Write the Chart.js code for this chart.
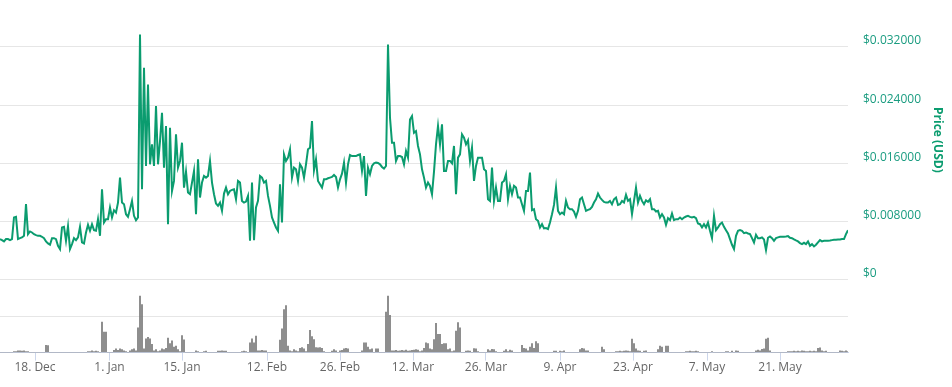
<!DOCTYPE html>
<html lang="en">
<head>
    <meta charset="UTF-8">
    <title>Price and volume</title>
    <script src="https://cdn.jsdelivr.net/npm/chart.js"></script>
    <style>
        body {
            margin: 0;
            background: #ffffff;
            font-family: 'Open Sans', sans-serif;
        }
        .chart-box {
            position: relative;
            width: 952px;
            height: 387px;
        }
    </style>
</head>
<body>
    <div class="chart-box">
        <canvas id="priceChart"></canvas>
    </div>

    <script>
        // Price in USD, one value per ordinal slot (gaps in time are skipped, like the original)
        const priceValues = [
            0.00558,0.00544,0.00526,0.00558,0.00558,0.00544,0.00558,0.00855,0.00864,0.00558,
            0.00571,0.00581,0.00603,0.01038,0.00626,0.00663,0.00649,0.00626,0.00613,0.00603,
            0.00603,0.00590,0.00571,0.00526,0.00498,0.00480,0.00571,0.00571,0.00558,0.00466,
            0.00421,0.00718,0.00727,0.00535,0.00736,0.00421,0.00489,0.00571,0.00544,0.00581,
            0.00727,0.00512,0.00498,0.00649,0.00754,0.00672,0.00763,0.00681,0.00672,0.00832,
            0.00603,0.01243,0.00786,0.00832,0.00832,0.00992,0.00855,0.00955,0.00923,0.01060,
            0.01403,0.01060,0.01038,0.00900,0.00864,0.00969,0.01083,0.00878,0.00818,0.00855,
            0.03369,0.01243,0.02912,0.01563,0.02683,0.01586,0.01860,0.01563,0.02386,0.01586,
            0.01906,0.02295,0.01540,0.02112,0.00763,0.02089,0.01220,0.01358,0.01998,0.01540,
            0.01632,0.01883,0.01266,0.01486,0.01198,0.01175,0.01335,0.01495,0.00900,0.01655,
            0.01129,0.01335,0.01426,0.01403,0.01426,0.01632,0.01335,0.01175,0.01047,0.01015,
            0.01060,0.00946,0.01184,0.01266,0.01175,0.01220,0.01234,0.01243,0.01106,0.01358,
            0.01335,0.01083,0.01060,0.01074,0.01152,0.00535,0.01335,0.00544,0.00992,0.01083,
            0.01426,0.01403,0.01335,0.01358,0.01152,0.01015,0.00855,0.00786,0.00718,0.00672,
            0.01312,0.00786,0.01723,0.01632,0.01678,0.01792,0.01403,0.01540,0.01518,0.01358,
            0.01586,0.01540,0.01403,0.01586,0.01792,0.01815,0.02180,0.01504,0.01655,0.01358,
            0.01312,0.01266,0.01380,0.01380,0.01394,0.01403,0.01412,0.01440,0.01412,0.01266,
            0.01380,0.01458,0.01609,0.01335,0.01586,0.01714,0.01700,0.01700,0.01700,0.01714,
            0.01723,0.01495,0.01700,0.01152,0.01540,0.01449,0.01563,0.01600,0.01609,0.01604,
            0.01586,0.01550,0.01527,0.01563,0.03232,0.02226,0.01883,0.01883,0.01632,0.01700,
            0.01700,0.01687,0.01586,0.01769,0.01678,0.02203,0.02249,0.02020,0.02043,0.01838,
            0.01723,0.01518,0.01403,0.01266,0.01335,0.01289,0.01175,0.01486,0.01860,0.02112,
            0.01860,0.02135,0.01495,0.01495,0.01632,0.01632,0.01600,0.01838,0.01175,0.01678,
            0.01723,0.01998,0.01952,0.01860,0.01915,0.01632,0.01815,0.01358,0.01563,0.01678,
            0.01678,0.01678,0.01518,0.01495,0.01106,0.01083,0.01540,0.01083,0.01266,0.01083,
            0.01083,0.01335,0.01358,0.01449,0.01106,0.01289,0.01175,0.01289,0.01266,0.01129,
            0.01129,0.01038,0.00946,0.01220,0.01220,0.01472,0.00955,0.00969,0.00832,0.00809,
            0.00718,0.00763,0.00704,0.00709,0.00695,0.00786,0.00900,0.01028,0.01266,0.00946,
            0.00900,0.00923,0.00900,0.01083,0.00992,0.00969,0.00969,0.00937,0.00864,0.00946,
            0.01106,0.01129,0.01038,0.00946,0.00960,0.00969,0.01001,0.01060,0.01106,0.01184,
            0.01129,0.01097,0.01070,0.01060,0.01060,0.01083,0.01038,0.01106,0.01129,0.01028,
            0.01038,0.01083,0.01060,0.01166,0.01083,0.01106,0.00900,0.01083,0.01266,0.01060,
            0.01152,0.01083,0.01038,0.01092,0.01070,0.01106,0.00969,0.00969,0.00937,0.00946,
            0.00855,0.00900,0.00855,0.00754,0.00846,0.00818,0.00910,0.00818,0.00832,0.00832,
            0.00855,0.00832,0.00855,0.00868,0.00878,0.00864,0.00855,0.00864,0.00846,0.00772,
            0.00763,0.00718,0.00763,0.00718,0.00786,0.00672,0.00571,0.00878,0.00681,0.00718,
            0.00763,0.00786,0.00727,0.00681,0.00635,0.00558,0.00480,0.00421,0.00603,0.00672,
            0.00681,0.00672,0.00640,0.00649,0.00635,0.00626,0.00571,0.00512,0.00617,0.00571,
            0.00571,0.00581,0.00553,0.00407,0.00576,0.00594,0.00571,0.00535,0.00571,0.00581,
            0.00590,0.00590,0.00590,0.00594,0.00599,0.00576,0.00571,0.00553,0.00539,0.00526,
            0.00503,0.00489,0.00507,0.00489,0.00526,0.00466,0.00489,0.00457,0.00480,0.00512,
            0.00544,0.00526,0.00535,0.00535,0.00535,0.00539,0.00544,0.00549,0.00549,0.00553,
            0.00553,0.00558,0.00558,0.00626,0.00681
        ];

        // Traded volume (thousand USD), same slots as the price
        const volumeValues = [
            0,0,0,0,0,0,0,3,3,5,
            5,4,5,3,3,0,0,0,0,0,
            0,0,0,20,19,0,0,0,0,0,
            0,0,0,0,0,0,0,0,0,0,
            0,0,0,0,3,3,5,3,4,3,
            0,84,56,56,0,0,0,6,10,6,
            10,8,5,3,0,5,8,10,5,68,
            155,132,10,38,42,38,23,5,8,3,
            5,10,8,12,40,25,32,15,18,8,
            3,47,35,0,0,0,0,0,5,3,
            0,0,3,4,0,0,0,0,0,4,
            4,5,4,4,0,0,0,0,0,0,
            0,3,4,3,0,27,38,27,45,5,
            5,6,5,5,0,0,0,0,0,0,
            34,65,118,129,18,5,3,8,5,3,
            12,14,10,3,23,61,44,36,14,13,
            14,12,3,0,0,0,4,8,5,0,
            5,6,10,12,10,0,0,0,0,0,
            0,5,27,27,15,8,10,0,10,10,
            0,0,0,111,155,102,5,5,6,4,
            5,6,5,7,4,5,6,7,8,7,
            3,5,12,27,25,10,8,36,80,50,
            50,23,25,25,8,10,3,5,59,82,
            68,0,0,4,5,4,0,11,10,3,
            0,0,0,0,8,5,9,8,3,0,
            0,0,4,8,3,7,5,0,0,0,
            0,20,12,10,5,15,25,12,30,25,
            0,0,0,0,0,0,0,4,4,0,
            4,3,5,0,0,0,0,0,0,0,
            8,12,10,5,5,0,0,0,0,0,
            0,15,8,0,0,0,0,0,3,3,
            4,3,4,5,4,3,37,25,10,5,
            4,0,4,5,0,0,0,0,0,8,
            18,15,0,18,18,0,0,0,0,0,
            0,0,0,3,3,4,3,3,4,3,
            0,0,0,0,0,0,3,0,0,0,
            0,0,0,3,3,0,4,0,5,4,
            0,0,0,0,0,0,0,0,5,7,
            5,9,10,37,40,5,0,0,0,0,
            0,0,0,0,3,3,3,4,3,4,
            3,5,4,3,3,4,3,4,3,12,
            13,5,3,4,0,0,0,0,0,0,
            5,4,3,5,3
        ];

        // Date labels and the slot where each date falls on the ordinal axis
        const dateLabels = ['18. Dec', '1. Jan', '15. Jan', '12. Feb', '26. Feb', '12. Mar',
                            '26. Mar', '9. Apr', '23. Apr', '7. May', '21. May'];
        const dateSlots = [17.5, 54.75, 91, 133.5, 170, 206.5, 243, 280, 316.5, 353.5, 390];

        const priceTicks = [0, 0.008, 0.016, 0.024, 0.032];
        const volumeTicks = [0, 100, 200];

        const green = '#0b9c6f';
        const fontFamily = "'Open Sans', sans-serif";

        // drop the label padding chart.js reserves, so the plot starts at the canvas edges
        function noPad(axis) {
            axis.paddingTop = 0;
            axis.paddingBottom = 0;
            axis.paddingLeft = 0;
            axis.paddingRight = 0;
        }

        const ctx = document.getElementById('priceChart').getContext('2d');

        const chart = new Chart(ctx, {
            data: {
                datasets: [{
                    type: 'line',
                    label: 'Price',
                    data: priceValues.map((v, i) => ({ x: i, y: v })),
                    yAxisID: 'y',
                    borderColor: green,
                    borderWidth: 2,
                    pointRadius: 0,
                    tension: 0,
                    fill: false
                }, {
                    type: 'bar',
                    label: 'Volume',
                    data: volumeValues.map((v, i) => ({ x: i, y: v })),
                    yAxisID: 'yv',
                    backgroundColor: '#777777',
                    barThickness: 1,
                    borderWidth: 0
                }]
            },
            options: {
                responsive: true,
                maintainAspectRatio: false,
                animation: false,
                layout: { padding: { top: 0, bottom: 12, left: 0, right: 0 } },
                plugins: {
                    legend: { display: false },
                    tooltip: { enabled: false }
                },
                scales: {
                    x: {
                        type: 'linear',
                        min: 0,
                        max: priceValues.length - 1,
                        offset: false,
                        grid: {
                            offset: false,
                            drawOnChartArea: false,
                            color: '#ccd6eb',
                            tickLength: 8
                        },
                        border: { color: '#ccd6eb' },
                        afterBuildTicks: axis => {
                            axis.ticks = dateSlots.map(v => ({ value: v }));
                        },
                        afterFit: noPad,
                        ticks: {
                            autoSkip: false,
                            maxRotation: 0,
                            padding: 0,
                            color: '#666666',
                            font: { family: fontFamily, size: 12 },
                            callback: value => dateLabels[dateSlots.indexOf(value)]
                        }
                    },
                    y: {
                        type: 'linear',
                        position: 'right',
                        stack: 'side',
                        stackWeight: 280,
                        min: 0,
                        max: 0.03845,
                        afterBuildTicks: axis => {
                            axis.ticks = priceTicks.map(v => ({ value: v }));
                        },
                        afterFit: axis => { axis.width = 104; noPad(axis); },
                        grid: { color: '#e6e6e6', drawTicks: false },
                        border: { display: false },
                        ticks: {
                            padding: 15,
                            labelOffset: -6,
                            color: '#1a9c80',
                            font: { family: fontFamily, size: 12 },
                            callback: v => v === 0 ? '$0' : '$' + v.toFixed(6)
                        },
                        title: {
                            display: true,
                            text: 'Price (USD)',
                            color: green,
                            padding: { top: 7, bottom: 0 },
                            font: { family: fontFamily, size: 12, weight: 'bold' }
                        }
                    },
                    yv: {
                        type: 'linear',
                        position: 'right',
                        stack: 'side',
                        stackWeight: 73,
                        min: 0,
                        max: 200,
                        afterBuildTicks: axis => {
                            axis.ticks = volumeTicks.map(v => ({ value: v }));
                        },
                        afterFit: axis => { axis.width = 104; noPad(axis); },
                        grid: {
                            drawTicks: false,
                            color: c => c.tick && c.tick.value === 0 ? 'rgba(0,0,0,0)' : '#e6e6e6'
                        },
                        border: { display: false },
                        ticks: { display: false }
                    }
                }
            }
        });
    </script>
</body>
</html>
